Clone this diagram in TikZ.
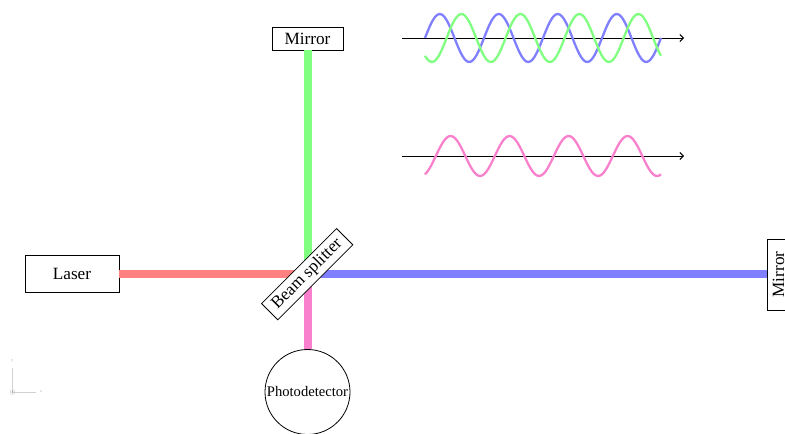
\documentclass[tikz,border=0pt]{standalone}
\usepackage{fontspec}
\setmainfont{Liberation Serif}
\usetikzlibrary{arrows.meta}
\definecolor{beamred}{HTML}{FF8080}
\definecolor{beamgreen}{HTML}{80FF80}
\definecolor{beamblue}{HTML}{8080FF}
\definecolor{beampink}{HTML}{F880CC}
\tikzset{
  x=1pt,y=-1pt,
  labelbox/.style={draw=black,line width=0.8pt,fill=white,inner sep=0pt,font=\fontsize{17.2}{18}\selectfont},
  beam/.style={line width=8pt},
  wave/.style={line width=2.3pt,smooth},
  axisline/.style={black,line width=1pt,-{Straight Barb[length=3.5pt,width=7pt]}},
  ghost/.style={black!18,line width=0.5pt},
  ghosttext/.style={black!35,inner sep=0pt,font=\fontsize{4}{4}\selectfont}
}
\begin{document}
\begin{tikzpicture}
\useasboundingbox (0,0) rectangle (785,434);
\clip (0,0) rectangle (785,434);
% nodes
\coordinate (centre) at (307.5,273.5);
\node[labelbox,minimum width=94pt,minimum height=37pt] (laser) at (72,273.5) {\raisebox{-1pt}{Laser}};
\node[labelbox,minimum width=71pt,minimum height=23pt] (mirrortop) at (307.5,38.5) {Mirror};
\node[labelbox,minimum width=71pt,minimum height=23pt,rotate=90] (mirrorright) at (778.5,274.5) {Mirror};
\node[draw=black,line width=0.8pt,fill=white,circle,minimum size=85pt,inner sep=0pt,font=\fontsize{14.6}{16}\selectfont] (photo) at (307.5,392) {\raisebox{-1.5pt}{Photodetector}};
% beams
\draw[beam,beamred] (laser.east) -- (centre);
\draw[beam,beamgreen] (mirrortop.south) -- (centre);
\draw[beam,beampink] (centre) -- (photo.north);
\draw[beam,beamblue] (centre) -- (mirrorright.north |- centre);
\node[labelbox,minimum width=106pt,minimum height=23pt,rotate=45] (splitter) at (307.2,274.2) {Beam splitter};
% axes of the waves
\coordinate (a1s) at (402,38);
\coordinate (a1e) at (684,38);
\coordinate (a2s) at (402,156);
\coordinate (a2e) at (684,156);
\draw[axisline] (a1s) -- (a1e);
\draw[axisline] (a2s) -- (a2e);
% waves
\draw[wave,beamblue] plot[domain=0:1440,samples=120] ({425+\x*0.16389},{38-24*sin(\x)});
\draw[wave,beamgreen] plot[domain=0:1440,samples=120] ({425+\x*0.16389},{38-24*sin(\x-132)});
\draw[wave,beampink] plot[domain=0:1440,samples=120] ({425+\x*0.16389},{156-20*sin(\x-66)});
% small axes
\coordinate (o) at (12.5,392);
\node[ghosttext] (xl) at (41,392) {x};
\node[ghosttext] (yl) at (12,361) {y};
\draw[ghost] (o) -- (36,392);
\draw[ghost] (o) -- (12.5,368);
\draw[ghost] (o) circle (2.5);
\fill[black!45] (o) circle (0.8);
\end{tikzpicture}
\end{document}
